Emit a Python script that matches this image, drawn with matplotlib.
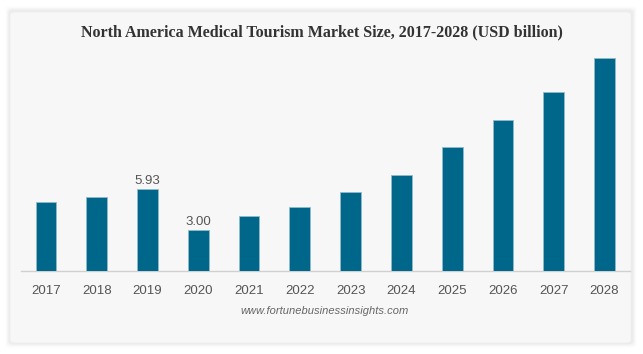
import matplotlib.pyplot as plt
from matplotlib.patches import FancyBboxPatch

years = ["2017", "2018", "2019", "2020", "2021", "2022",
         "2023", "2024", "2025", "2026", "2027", "2028"]
market_size = [4.99, 5.37, 5.93, 3.00, 3.97, 4.67,
               5.76, 6.97, 8.98, 10.96, 12.97, 15.46]
labelled = {"2019": "5.93", "2020": "3.00"}

W, H = 643, 354
fig = plt.figure(figsize=(W / 100, H / 100), dpi=100)
fig.patch.set_facecolor("white")

# card with soft shadow
for i, a in enumerate([0.015, 0.025, 0.035]):
    pad = (3 - i) * 1.5
    fig.patches.append(FancyBboxPatch(
        ((10 - pad) / W, (H - 344 - pad + 1) / H), (622 + 2 * pad) / W, (332 + 2 * pad) / H,
        boxstyle="round,pad=0,rounding_size=0.008", transform=fig.transFigure,
        facecolor="black", edgecolor="none", alpha=a, zorder=0))
fig.patches.append(FancyBboxPatch(
    (10 / W, (H - 343) / H), 621 / W, 331 / H,
    boxstyle="round,pad=0,rounding_size=0.008", transform=fig.transFigure,
    facecolor="#f7f7f7", edgecolor="#eeeeee", linewidth=0.6, zorder=1))

ax = fig.add_axes([20.6 / W, (H - 271) / H, 609.3 / W, 220.5 / H])
ax.set_zorder(3)
ax.set_facecolor("none")
x = range(len(years))
bars = ax.bar(x, market_size, width=0.41, color="#00668a",
              edgecolor="#8fbccc", linewidth=0.6, zorder=3)
for i, yr in enumerate(years):
    if yr in labelled:
        ax.text(i, market_size[i] + 0.14, labelled[yr], ha="center", va="bottom",
                fontsize=9.5, color="#555555", family="Liberation Sans")

ax.set_xlim(-0.5, len(years) - 0.5)
ax.set_ylim(0, 16)
ax.set_xticks(list(x))
ax.set_xticklabels(years, fontsize=9.5, color="#555555", family="Liberation Sans")
ax.tick_params(axis="x", length=0, pad=10)
ax.set_yticks([])
for side in ["top", "right", "left"]:
    ax.spines[side].set_visible(False)
ax.spines["bottom"].set_color("#d0d0d0")
ax.spines["bottom"].set_linewidth(1)

fig.text(322 / W, 1 - 32 / H,
         "North America Medical Tourism Market Size, 2017-2028 (USD billion)",
         ha="center", va="center", fontsize=11.5, fontweight="bold",
         family="Liberation Serif", color="#333333", zorder=4)
fig.text(325 / W, 1 - 311 / H, "www.fortunebusinessinsights.com",
         ha="center", va="center", fontsize=8, style="italic",
         family="Liberation Sans", color="#666666", zorder=4)

fig.savefig("out.png", dpi=100, facecolor=fig.get_facecolor())
